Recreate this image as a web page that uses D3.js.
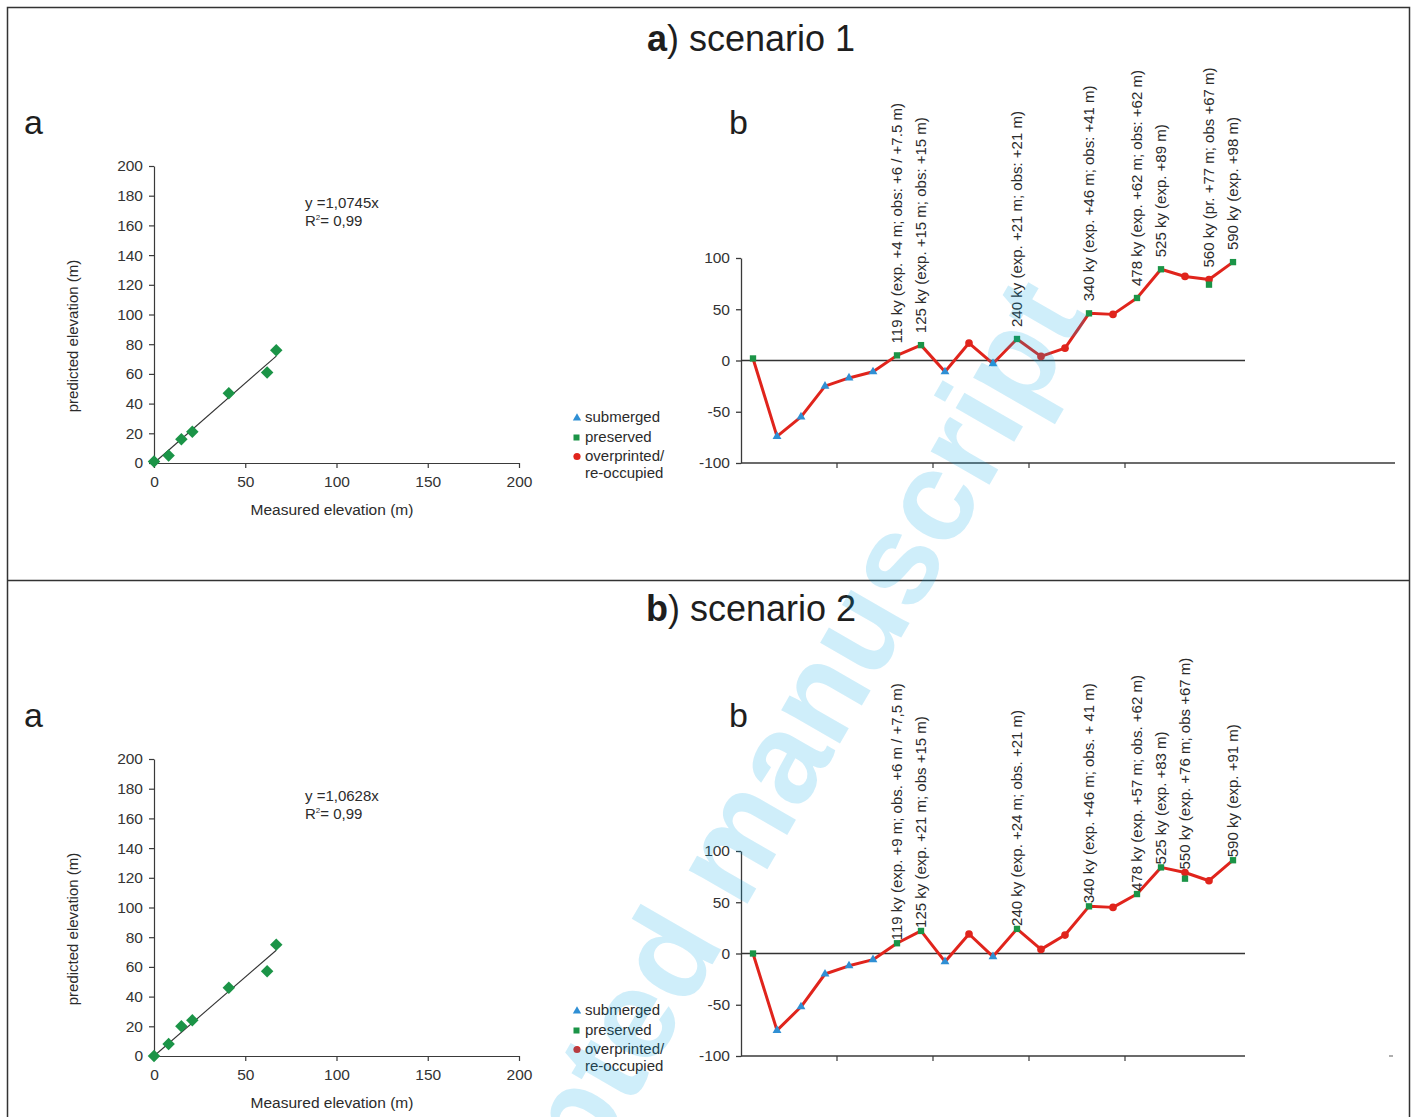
<!DOCTYPE html>
<html>
<head>
<meta charset="utf-8">
<script src="https://cdn.jsdelivr.net/npm/d3@7"></script>
<style>
body { margin: 0; background: #fff; }
svg text { font-family: "Liberation Sans", Arial, Helvetica, sans-serif; fill: #2b2b2b; }
</style>
</head>
<body>
<svg id="fig" width="1416" height="1117"></svg>
<script>
// ---- scatter (a): measured vs predicted elevation, m ----
var measured1  = [0, 8, 15, 21, 41, 62, 67];
var predicted1 = [1, 5, 16, 21, 47, 61, 76];
var measured2  = [0, 8, 15, 21, 41, 62, 67];
var predicted2 = [0, 8, 20, 24, 46, 57, 75];
var slope1 = 1.0745, slope2 = 1.0628;
var eqText1 = "y =1,0745x", eqText2 = "y =1,0628x";
var r2Text = "0,99";
var scatterTicksY = [0, 20, 40, 60, 80, 100, 120, 140, 160, 180, 200];
var scatterTicksX = [0, 50, 100, 150, 200];

// ---- profile (b): elevation of each terrace along the sequence, m ----
// kind: p = preserved, s = submerged, o = overprinted / re-occupied
var profile1 = [2, -74, -55, -25, -17, -11, 5, 15, -11, 17, -3, 21, 4, 12, 46, 45, 61, 89, 82, 79, 96];
var kind1    = ["p","s","s","s","s","s","p","p","s","o","s","p","o","o","p","o","p","p","o","o","p"];
var extraPreserved1 = [[19, 74]];
var labelIdx1 = [6, 7, 11, 14, 16, 17, 19, 20];
var labelText1 = [
  "119 ky (exp. +4 m; obs: +6 / +7.5 m)",
  "125 ky (exp. +15 m; obs: +15 m)",
  "240 ky (exp. +21 m; obs: +21 m)",
  "340 ky (exp. +46 m; obs: +41 m)",
  "478 ky (exp. +62 m; obs: +62 m)",
  "525 ky (exp. +89 m)",
  "560 ky (pr. +77 m; obs +67 m)",
  "590 ky (exp. +98 m)"
];

var profile2 = [0, -75, -52, -20, -12, -6, 10, 22, -8, 19, -3, 24, 4, 18, 46, 45, 58, 84, 79, 71, 91];
var kind2    = ["p","s","s","s","s","s","p","p","s","o","s","p","o","o","p","o","p","p","o","o","p"];
var extraPreserved2 = [[18, 73]];
var labelIdx2 = [6, 7, 11, 14, 16, 17, 18, 20];
var labelText2 = [
  "119 ky (exp. +9 m; obs. +6 m / +7,5 m)",
  "125 ky (exp. +21 m; obs +15 m)",
  "240 ky (exp. +24 m; obs. +21 m)",
  "340 ky (exp. +46 m; obs. + 41 m)",
  "478 ky (exp. +57 m; obs. +62 m)",
  "525 ky (exp. +83 m)",
  "550 ky (exp. +76 m; obs +67 m)",
  "590 ky (exp. +91 m)"
];
var profileTicksY = [-100, -50, 0, 50, 100];
var categoryTicks = [4, 8, 12, 16];

var legendNames = ["submerged", "preserved", "overprinted/", "re-occupied"];

var titles = [["a", ") scenario 1"], ["b", ") scenario 2"]];

var GREEN = "#1b9447", BLUE = "#2f8fd4", RED = "#e0241c", AXIS = "#3a3a3a";
var plain = function (v) { return String(v); }; // keep "-50", not a unicode minus

var svg = d3.select("#fig");

// frame around both panels
svg.append("path")
    .attr("d", "M7.5,1117V7.5H1409.5V1117M7.5,580.5H1409.5")
    .attr("fill", "none").attr("stroke", "#333").attr("stroke-width", 1.5);

// titles
titles.forEach(function (t, i) {
    var tx = svg.append("text")
        .attr("x", 751).attr("y", 51 + i * 570)
        .attr("text-anchor", "middle")
        .style("font-size", "36px").style("fill", "#1e1e1e");
    tx.append("tspan").attr("font-weight", "bold").text(t[0]);
    tx.append("tspan").text(t[1]);
});

function drawPanel(off, d) {
    var g = svg.append("g");

    // panel letters
    g.append("text").attr("x", 24).attr("y", 134 + off).style("font-size", "34px").style("fill", "#1e1e1e").text("a");
    g.append("text").attr("x", 729).attr("y", 134 + off).style("font-size", "34px").style("fill", "#1e1e1e").text("b");

    //// scatter ////
    var x = d3.scaleLinear().domain([0, 200]).range([154, 519]);
    var y = d3.scaleLinear().domain([0, 200]).range([463 + off, 166 + off]);

    var ax = g.append("g").attr("transform", "translate(0," + y(0) + ")")
        .call(d3.axisBottom(x).tickValues(scatterTicksX).tickFormat(plain).tickSize(5).tickSizeOuter(0).tickPadding(8));
    var ay = g.append("g").attr("transform", "translate(" + x(0) + ",0)")
        .call(d3.axisLeft(y).tickValues(scatterTicksY).tickFormat(plain).tickSize(5).tickSizeOuter(0).tickPadding(6));
    [ax, ay].forEach(function (a) {
        a.selectAll("path,line").attr("stroke", AXIS).attr("stroke-width", 1.2);
        a.selectAll("text").style("font-size", "15.5px").style("fill", "#333");
    });

    g.append("text").attr("x", 332).attr("y", 515 + off).attr("text-anchor", "middle")
        .style("font-size", "15.5px").text("Measured elevation (m)");
    g.append("text").attr("transform", "translate(78," + (336 + off) + ") rotate(-90)")
        .attr("text-anchor", "middle").style("font-size", "15px").text("predicted elevation (m)");

    // trend line through origin
    var xMax = d3.max(d.measured);
    g.append("line")
        .attr("x1", x(0)).attr("y1", y(0))
        .attr("x2", x(xMax)).attr("y2", y(d.slope * xMax))
        .attr("stroke", "#333").attr("stroke-width", 1.1);

    g.selectAll(".dia").data(d.measured).enter().append("path")
        .attr("d", d3.symbol().type(d3.symbolSquare).size(78))
        .attr("transform", function (v, i) { return "translate(" + x(v) + "," + y(d.predicted[i]) + ") rotate(45)"; })
        .attr("fill", GREEN);

    var eq = g.append("text").attr("x", 305).attr("y", 208 + off).style("font-size", "15px");
    eq.text(d.eq);
    var r2 = g.append("text").attr("x", 305).attr("y", 226 + off).style("font-size", "15px");
    r2.append("tspan").text("R");
    r2.append("tspan").attr("dy", -6).style("font-size", "8px").text("2");
    r2.append("tspan").attr("dy", 6).text("= " + r2Text);

    //// legend ////
    var ly = [417, 437, 456, 473].map(function (v) { return v + off; });
    var lg = g.append("g");
    lg.append("path").attr("d", d3.symbol().type(d3.symbolTriangle).size(30))
        .attr("transform", "translate(577," + (ly[0] + 1) + ")").attr("fill", BLUE);
    lg.append("rect").attr("x", 573.5).attr("y", ly[1] - 2.5).attr("width", 6).attr("height", 6).attr("fill", GREEN);
    lg.append("circle").attr("cx", 577).attr("cy", ly[2] + 0.5).attr("r", 3.6).attr("fill", RED);
    lg.selectAll("text").data(legendNames).enter().append("text")
        .attr("x", 585).attr("y", function (v, i) { return ly[i] + 5; })
        .style("font-size", "15px").text(function (v) { return v; });

    //// profile ////
    var px = d3.scaleLinear().domain([0, d.profile.length]).range([741, 1245]);
    var py = d3.scaleLinear().domain([-100, 100]).range([463 + off, 258 + off]);
    var cx = function (i) { return px(i + 0.5); };

    var pay = g.append("g").attr("transform", "translate(" + px(0) + ",0)")
        .call(d3.axisLeft(py).tickValues(profileTicksY).tickFormat(plain).tickSize(5).tickSizeOuter(0).tickPadding(6));
    pay.selectAll("path,line").attr("stroke", AXIS).attr("stroke-width", 1.3);
    pay.selectAll("text").style("font-size", "15.5px").style("fill", "#333");

    // category axis along -100
    g.append("line").attr("x1", px(0)).attr("x2", px(d.axisSpan))
        .attr("y1", py(-100)).attr("y2", py(-100)).attr("stroke", AXIS).attr("stroke-width", 1.5);
    g.selectAll(".ct").data(categoryTicks).enter().append("line")
        .attr("x1", function (v) { return px(v); }).attr("x2", function (v) { return px(v); })
        .attr("y1", py(-100)).attr("y2", py(-100) + 5).attr("stroke", AXIS).attr("stroke-width", 1.2);
    if (d.stray) {
        g.append("line").attr("x1", px(d.stray)).attr("x2", px(d.stray) + 4)
            .attr("y1", py(-100)).attr("y2", py(-100)).attr("stroke", "#777").attr("stroke-width", 1.2);
    }

    // zero line
    g.append("line").attr("x1", px(0)).attr("x2", px(d.profile.length))
        .attr("y1", py(0)).attr("y2", py(0)).attr("stroke", "#333").attr("stroke-width", 1.3);

    g.append("path").datum(d.profile)
        .attr("d", d3.line().x(function (v, i) { return cx(i); }).y(function (v) { return py(v); }))
        .attr("fill", "none").attr("stroke", RED).attr("stroke-width", 3).attr("stroke-linejoin", "round");

    var pts = d.profile.map(function (v, i) { return { i: i, v: v, k: d.kind[i] }; });
    d.extra.forEach(function (e) { pts.push({ i: e[0], v: e[1], k: "p" }); });

    g.selectAll(".pt").data(pts).enter().append("path")
        .attr("d", function (p) {
            if (p.k === "s") return d3.symbol().type(d3.symbolTriangle).size(34)();
            if (p.k === "p") return d3.symbol().type(d3.symbolSquare).size(40)();
            return d3.symbol().type(d3.symbolCircle).size(46)();
        })
        .attr("transform", function (p) { return "translate(" + cx(p.i) + "," + py(p.v) + ")"; })
        .attr("fill", function (p) { return p.k === "s" ? BLUE : (p.k === "p" ? GREEN : RED); });

    // rotated data labels above the points
    g.selectAll(".lab").data(d.labelIdx).enter().append("text")
        .attr("transform", function (idx) {
            var top = py(d.profile[idx]) - d.labelGap;
            return "translate(" + cx(idx) + "," + top + ") rotate(-90)";
        })
        .attr("dy", "0.35em")
        .style("font-size", "15px")
        .text(function (idx, i) { return d.labelText[i]; });
}

drawPanel(0, {
    measured: measured1, predicted: predicted1, slope: slope1, eq: eqText1,
    profile: profile1, kind: kind1, extra: extraPreserved1,
    labelIdx: labelIdx1, labelText: labelText1, labelGap: 12, axisSpan: 27.25, stray: null
});
drawPanel(593, {
    measured: measured2, predicted: predicted2, slope: slope2, eq: eqText2,
    profile: profile2, kind: kind2, extra: extraPreserved2,
    labelIdx: labelIdx2, labelText: labelText2, labelGap: 3, axisSpan: 21, stray: 27
});

// watermark
svg.append("text")
    .attr("transform", "translate(1088,314) rotate(-60)")
    .attr("text-anchor", "end")
    .style("font-size", "128px").style("font-weight", "bold")
    .style("fill", "#00a3e6").style("fill-opacity", 0.19)
    .text("Accepted manuscript");
</script>
</body>
</html>
